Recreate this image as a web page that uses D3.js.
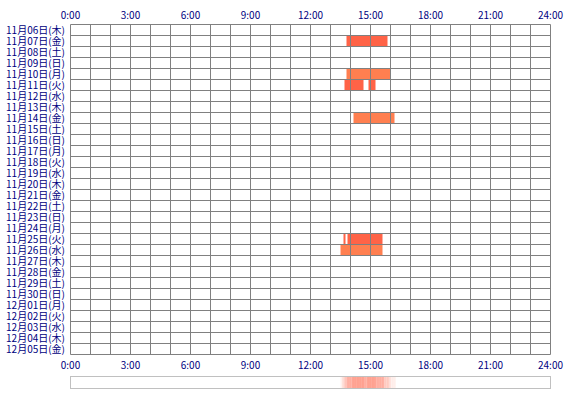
<!DOCTYPE html>
<html><head><meta charset="utf-8">
<script src="https://cdn.jsdelivr.net/npm/d3@7"></script>
<style>body{margin:0;background:#fff}svg{display:block}</style>
</head><body><svg id="c" width="570" height="400"></svg>
<script>
const dayLabels = ["11月06日(木)","11月07日(金)","11月08日(土)","11月09日(日)","11月10日(月)","11月11日(火)","11月12日(水)","11月13日(木)","11月14日(金)","11月15日(土)","11月16日(日)","11月17日(月)","11月18日(火)","11月19日(水)","11月20日(木)","11月21日(金)","11月22日(土)","11月23日(日)","11月24日(月)","11月25日(火)","11月26日(水)","11月27日(木)","11月28日(金)","11月29日(土)","11月30日(日)","12月01日(月)","12月02日(火)","12月03日(水)","12月04日(木)","12月05日(金)"];
const hourTicks = [0,3,6,9,12,15,18,21,24];
const tickLabels = ["0:00","3:00","6:00","9:00","12:00","15:00","18:00","21:00","24:00"];
// sessions: row label, start hour, end hour
const sessionDay   = ["11月07日(金)","11月10日(月)","11月11日(火)","11月11日(火)","11月14日(金)","11月25日(火)","11月25日(火)","11月26日(水)"];
const sessionStart = [13.80, 13.80, 13.70, 14.90, 14.15, 13.65, 13.85, 13.50];
const sessionEnd   = [15.85, 16.00, 14.65, 15.25, 16.20, 13.75, 15.60, 15.60];

const svg = d3.select("#c");
const x = d3.scaleLinear().domain([0,24]).range([70.5,550.5]);
const y = d3.scaleBand().domain(dayLabels).range([24.5,354.5]);
const font = "'Noto Sans CJK JP', sans-serif";
const navy = "#000080";

// bars
svg.append("g").selectAll("rect").data(sessionDay.map((d,i)=>({d,s:sessionStart[i],e:sessionEnd[i]})))
  .join("rect")
  .attr("x", d=>x(d.s)).attr("width", d=>x(d.e)-x(d.s))
  .attr("y", d=>y(d.d)).attr("height", y.bandwidth())
  .attr("fill", d=>dayLabels.indexOf(d.d)%2===1 ? "#FF6347" : "#FF7F50");

// grid
const g = svg.append("g").attr("stroke","#808080").attr("stroke-width",1).attr("fill","none");
g.selectAll("line.v").data(d3.range(0,25)).join("line")
  .attr("x1",d=>x(d)).attr("x2",d=>x(d)).attr("y1",y.range()[0]).attr("y2",y.range()[1]);
g.selectAll("line.h").data(d3.range(0,dayLabels.length+1)).join("line")
  .attr("x1",x(0)).attr("x2",x(24))
  .attr("y1",d=>y.range()[0]+d*y.step()).attr("y2",d=>y.range()[0]+d*y.step());

// row labels
svg.append("g").selectAll("text").data(dayLabels).join("text")
  .attr("x",65).attr("y",d=>y(d)+y.bandwidth()/2+4)
  .attr("text-anchor","end").attr("font-family",font).attr("font-size",10).attr("fill",navy)
  .text(d=>d);

// tick labels top and bottom
[18.5, 368.5].forEach(yy=>{
  svg.append("g").selectAll("text").data(hourTicks).join("text")
    .attr("x",d=>x(d)).attr("y",yy).attr("text-anchor","middle")
    .attr("font-family",font).attr("font-size",10).attr("fill",navy)
    .text((d,i)=>tickLabels[i]);
});

// summary bar
const binSize = 1/12;
const bins = d3.range(0,24,binSize).map(b=>{
  const days = new Set();
  sessionDay.forEach((d,i)=>{ if (sessionStart[i] < b+binSize && sessionEnd[i] > b) days.add(d); });
  return {b, n: days.size};
});
const maxN = d3.max(bins, d=>d.n);
const sb = svg.append("g");
sb.selectAll("rect").data(bins.filter(d=>d.n>0)).join("rect")
  .attr("x",d=>x(d.b)).attr("width",x(binSize)-x(0)+0.3)
  .attr("y",376.5).attr("height",12)
  .attr("fill","#FF6347").attr("fill-opacity",d=>0.55*d.n/maxN);
sb.append("rect").attr("x",x(0)).attr("y",376.5).attr("width",x(24)-x(0)).attr("height",12)
  .attr("fill","none").attr("stroke","#C0C0C0");
</script></body></html>
